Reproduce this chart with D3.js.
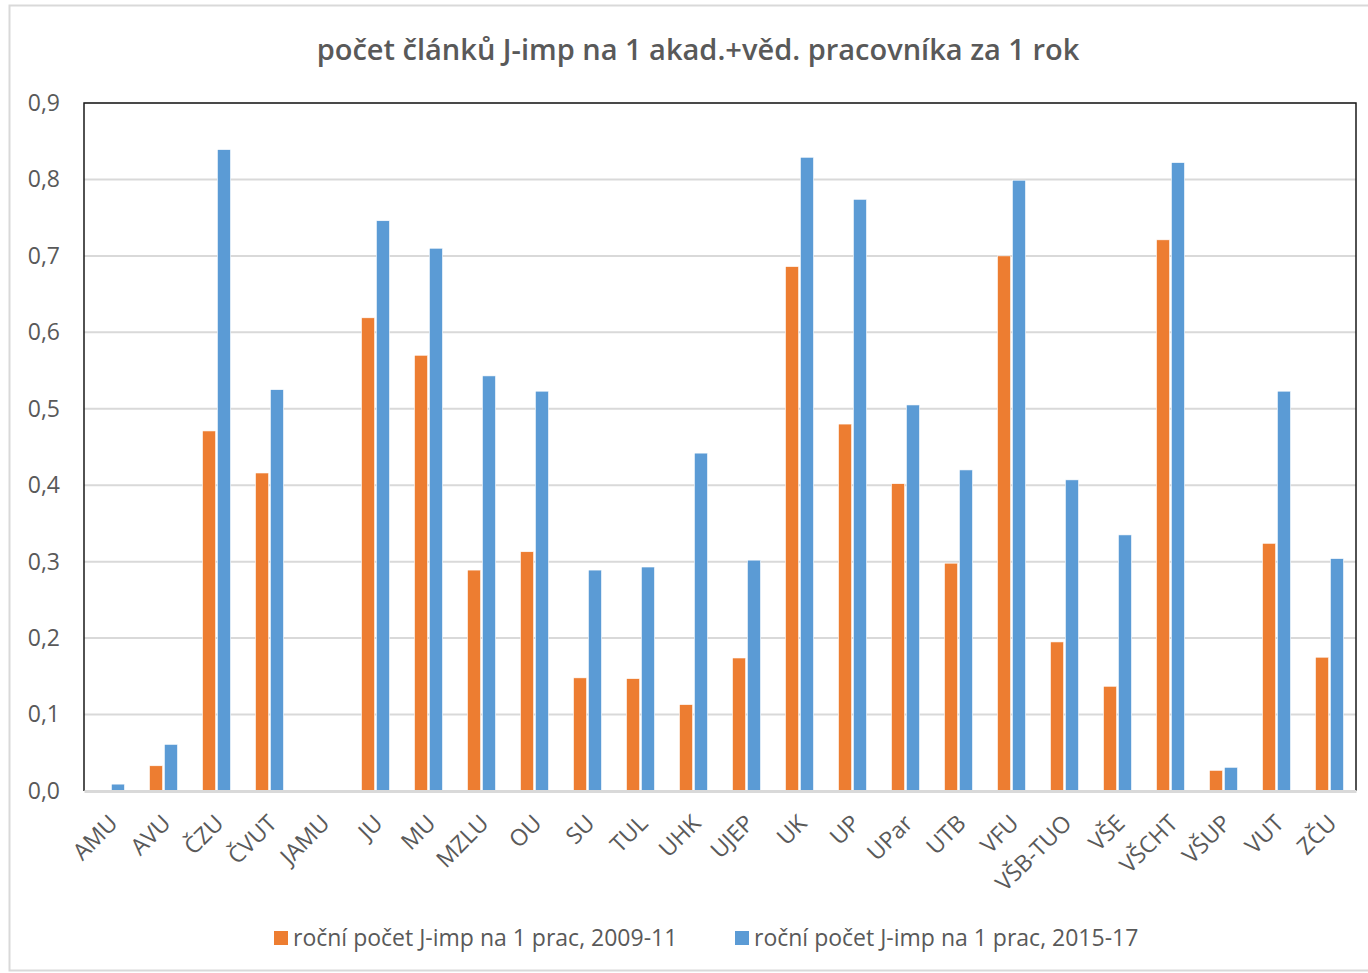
<!DOCTYPE html>
<html>
<head>
<meta charset="utf-8">
<script src="https://cdn.jsdelivr.net/npm/d3@7"></script>
<style>
  body { margin: 0; background: #fff; }
  text { font-family: "Open Sans", Lato, sans-serif; fill: #595959; }
</style>
</head>
<body>
<script>
// data
var schools = ["AMU", "AVU", "ČZU", "ČVUT", "JAMU", "JU", "MU", "MZLU", "OU", "SU", "TUL", "UHK",
               "UJEP", "UK", "UP", "UPar", "UTB", "VFU", "VŠB-TUO", "VŠE", "VŠCHT", "VŠUP", "VUT", "ZČU"];
var values0911 = [0, 0.033, 0.471, 0.416, 0, 0.619, 0.570, 0.289, 0.313, 0.148, 0.147, 0.113,
                  0.174, 0.686, 0.480, 0.402, 0.298, 0.700, 0.195, 0.137, 0.721, 0.027, 0.324, 0.175];
var values1517 = [0.009, 0.061, 0.839, 0.525, 0, 0.746, 0.710, 0.543, 0.523, 0.289, 0.293, 0.442,
                  0.302, 0.829, 0.774, 0.505, 0.420, 0.799, 0.407, 0.335, 0.822, 0.031, 0.523, 0.304];
var seriesNames = ["roční počet J-imp na 1 prac, 2009-11", "roční počet J-imp na 1 prac, 2015-17"];
var colors = ["#ED7D31", "#5B9BD5"];
var yTicks = [0, 0.1, 0.2, 0.3, 0.4, 0.5, 0.6, 0.7, 0.8, 0.9];

var W = 1368, H = 973;
var margin = {top: 103, right: 12, bottom: 182, left: 84},
    width = W - margin.left - margin.right,
    height = H - margin.top - margin.bottom;

var svg = d3.select("body").append("svg")
    .attr("width", W)
    .attr("height", H);

// outer chart border
svg.append("rect")
    .attr("x", 9.5).attr("y", 5.5)
    .attr("width", W).attr("height", H - 8)
    .attr("fill", "none")
    .attr("stroke", "#d9d9d9")
    .attr("stroke-width", 2);

// title
svg.append("text")
    .attr("x", 698).attr("y", 60)
    .attr("text-anchor", "middle")
    .style("font-size", "29px")
    .style("font-weight", "600")
    .text("počet článků J-imp na 1 akad.+věd. pracovníka za 1 rok");

var g = svg.append("g")
    .attr("transform", "translate(" + margin.left + "," + margin.top + ")");

var x = d3.scaleBand()
    .domain(schools)
    .range([0, width]);

var inner = d3.scaleBand()
    .domain([0, 1])
    .range([x.bandwidth() / 2 - 14, x.bandwidth() / 2 + 14])
    .paddingInner(0.12);

var y = d3.scaleLinear()
    .domain([0, 0.9])
    .range([height, 0]);

// gridlines
g.selectAll(".grid")
    .data(yTicks.slice(1))
  .enter().append("line")
    .attr("x1", 0).attr("x2", width)
    .attr("y1", function(d) { return y(d); })
    .attr("y2", function(d) { return y(d); })
    .attr("stroke", "#d9d9d9")
    .attr("stroke-width", 2);

// y axis labels
var yAxis = g.append("g")
    .call(d3.axisLeft(y).tickValues(yTicks).tickSize(0).tickPadding(24)
      .tickFormat(function(d) { return d3.format(".1f")(d).replace(".", ","); }));
yAxis.select(".domain").remove();
yAxis.selectAll("text")
    .style("font-size", "23px")
    .style("font-family", "'Open Sans', Lato, sans-serif")
    .attr("fill", "#595959");

// bars
var series = [values0911, values1517];
series.forEach(function(vals, si) {
  g.selectAll(".bar" + si)
      .data(vals)
    .enter().append("rect")
      .attr("class", "bar" + si)
      .attr("x", function(d, i) { return x(schools[i]) + inner(si); })
      .attr("width", inner.bandwidth())
      .attr("y", function(d) { return y(d); })
      .attr("height", function(d) { return height - y(d); })
      .attr("fill", colors[si])
      .attr("stroke", "#fff")
      .attr("stroke-width", 0.6)
      .style("display", function(d) { return d > 0 ? null : "none"; });
});

// plot area frame: black on top/left/right, gray axis line at the bottom
g.append("path")
    .attr("d", "M0," + height + "V0H" + width + "V" + height)
    .attr("fill", "none")
    .attr("stroke", "#1a1a1a")
    .attr("stroke-width", 1.5);

var xAxis = g.append("g")
    .attr("transform", "translate(0," + height + ")")
    .call(d3.axisBottom(x).tickSize(0).tickPadding(0));
xAxis.select(".domain")
    .attr("stroke", "#d9d9d9")
    .attr("stroke-width", 3);
xAxis.selectAll("text")
    .style("font-size", "23px")
    .style("font-family", "'Open Sans', Lato, sans-serif")
    .attr("fill", "#595959")
    .attr("text-anchor", "end")
    .attr("dy", "0.35em")
    .attr("transform", "translate(" + 3 + ",28) rotate(-45)");

// legend
var legendX = [274, 735];
var legend = svg.selectAll(".legend")
    .data(seriesNames)
  .enter().append("g")
    .attr("transform", function(d, i) { return "translate(" + legendX[i] + ",938)"; });
legend.append("rect")
    .attr("x", 0).attr("y", -7)
    .attr("width", 14).attr("height", 14)
    .attr("fill", function(d, i) { return colors[i]; });
legend.append("text")
    .attr("x", 19).attr("dy", "0.35em")
    .style("font-size", "23px")
    .text(function(d) { return d; });
</script>
</body>
</html>
